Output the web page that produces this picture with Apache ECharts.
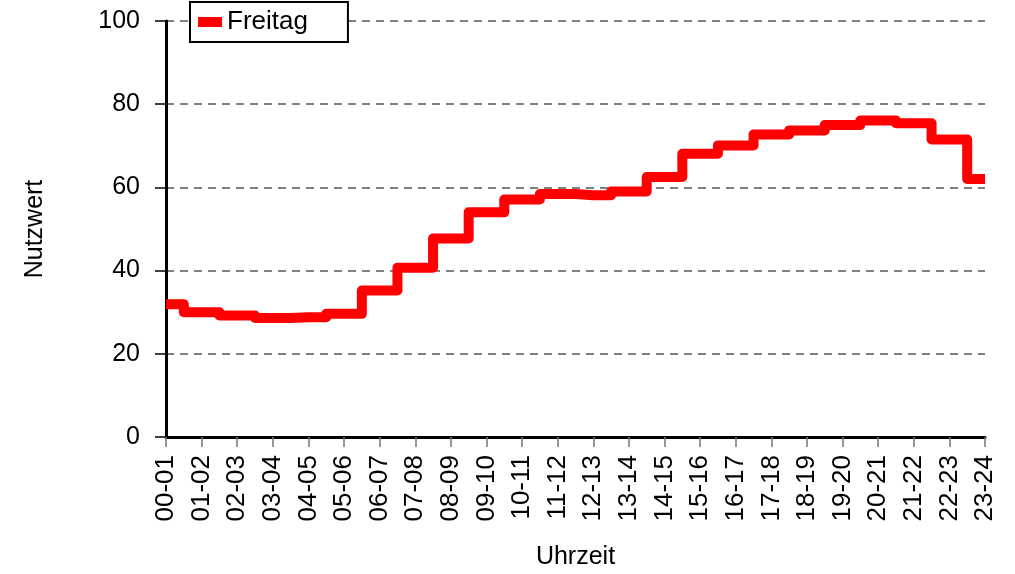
<!DOCTYPE html>
<html>
<head>
<meta charset="utf-8">
<script src="https://cdn.jsdelivr.net/npm/echarts@6/dist/echarts.min.js"></script>
<style>
    html, body {margin: 0; padding: 0; background: #fff;}
    #chart {width: 1015px; height: 574px;}
</style>
</head>
<body>
<div id="chart"></div>
<script>
    // Stunden-Kategorien
    const hours = ['00-01','01-02','02-03','03-04','04-05','05-06','06-07','07-08','08-09','09-10','10-11','11-12',
        '12-13','13-14','14-15','15-16','16-17','17-18','18-19','19-20','20-21','21-22','22-23','23-24']
    // Nutzwert Freitag
    const freitag = [31.9, 30.0, 29.2, 28.6, 28.8, 29.6, 35.2, 40.7, 47.7, 54.0, 57.1, 58.4,
        58.1, 59.0, 62.5, 68.1, 70.1, 72.7, 73.7, 75.0, 76.1, 75.4, 71.5, 62.0]
    const yTicks = [0, 20, 40, 60, 80, 100]

    const font = 'Liberation Sans, Arial, sans-serif'
    const myChart = echarts.init(document.getElementById('chart'))
    myChart.setOption({
        animation: false,
        textStyle: {fontFamily: font},
        legend: {
            data: [{name: 'Freitag', icon: 'rect'}],
            left: 190,
            top: 2,
            itemWidth: 24,
            itemHeight: 10,
            itemGap: 6,
            padding: [7, 40, 7, 8],
            borderColor: '#000',
            borderWidth: 2,
            borderRadius: 0,
            backgroundColor: '#fff',
            textStyle: {fontSize: 26, color: '#000', fontFamily: font}
        },
        grid: {
            left: 166,
            right: 30,
            top: 21,
            bottom: 137,
            containLabel: false,
            outerBoundsMode: 'none'
        },
        xAxis: {
            type: 'category',
            data: hours,
            boundaryGap: false,
            name: 'Uhrzeit',
            nameLocation: 'middle',
            nameGap: 108,
            nameTextStyle: {fontSize: 25, color: '#000', fontFamily: font},
            axisLine: {lineStyle: {color: '#000', width: 3}},
            axisTick: {show: true, length: 10, lineStyle: {color: '#777', width: 1.5}},
            axisLabel: {rotate: 90, fontSize: 26, color: '#000', margin: 18, interval: 0, fontFamily: font},
            splitLine: {show: false}
        },
        yAxis: {
            type: 'value',
            min: yTicks[0],
            max: yTicks[yTicks.length - 1],
            interval: 20,
            name: 'Nutzwert',
            nameLocation: 'middle',
            nameGap: 118,
            nameTextStyle: {fontSize: 25, color: '#000', fontFamily: font},
            axisLine: {show: true, lineStyle: {color: '#000', width: 3}},
            axisTick: {show: true, length: 11, lineStyle: {color: '#000', width: 1.5}},
            axisLabel: {fontSize: 25, color: '#000', margin: 26, fontFamily: font},
            splitLine: {show: true, lineStyle: {color: '#555', width: 1.5, type: [8, 6]}}
        },
        series: [{
            name: 'Freitag',
            type: 'line',
            step: 'middle',
            data: freitag,
            symbol: 'none',
            clip: true,
            color: '#ff0000',
            lineStyle: {color: '#ff0000', width: 10, cap: 'butt', join: 'round'}
        }]
    })
</script>
</body>
</html>
